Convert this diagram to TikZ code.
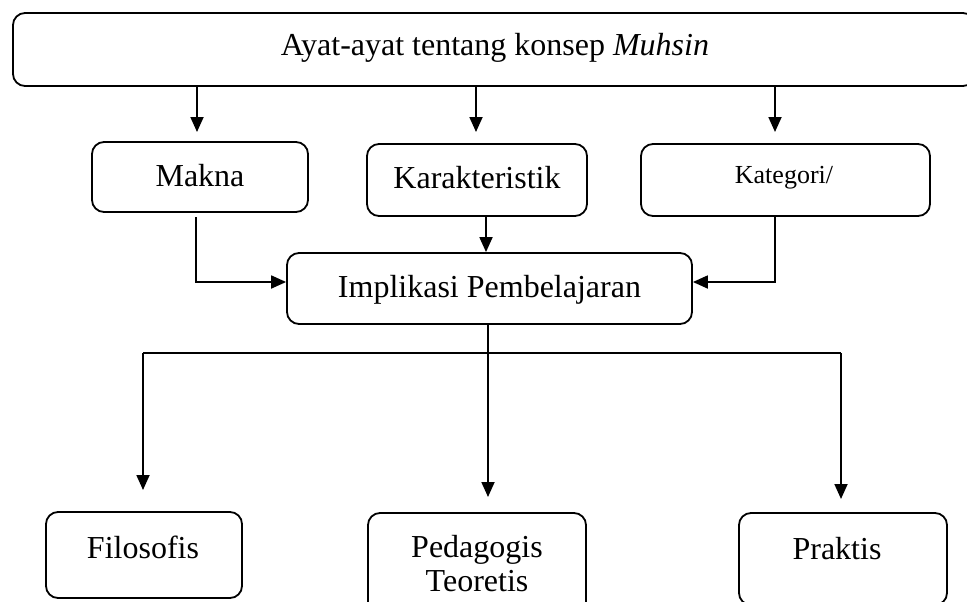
\documentclass[tikz,border=0pt]{standalone}
\usepackage{fontspec}
\setmainfont{Liberation Serif}
\usetikzlibrary{arrows.meta}
\begin{document}
\begin{tikzpicture}[x=1pt,y=-1pt,
  box/.style={draw,line width=1.8pt,rounded corners=12pt,inner sep=0pt,align=center,font=\fontsize{32}{37}\selectfont},
  txt/.style={inner sep=0pt,align=center,font=\fontsize{32}{37}\selectfont},
  arr/.style={line width=1.8pt,-{Triangle[length=15pt,width=13pt]}},
  ln/.style={line width=1.8pt}]
\useasboundingbox (0,0) rectangle (967,602);
\clip (0,0) rectangle (967,602);
% boxes
\node[box,minimum width=962pt,minimum height=73pt] (top) at (494,49.5) {};
\node[txt] (toptext) at (495,48) {Ayat-ayat tentang konsep \textit{Muhsin}};
\node[box,minimum width=216pt,minimum height=70pt] (makna) at (200,177) {};
\node[txt] (maknat) at (200,175.5) {Makna};
\node[box,minimum width=220pt,minimum height=72pt] (kar) at (477,180) {};
\node[txt] (kart) at (477,177.5) {Karakteristik};
\node[box,minimum width=289pt,minimum height=72pt] (kat) at (785.5,180) {};
\node[txt,font=\fontsize{26}{30}\selectfont] (katt) at (784,178) {Kategori/};
\node[box,minimum width=405pt,minimum height=71pt] (impl) at (489.5,288.5) {};
\node[txt] (implt) at (489.5,290) {Implikasi Pembelajaran};
\node[box,minimum width=196pt,minimum height=86pt] (filo) at (144,555) {};
\node[box,minimum width=218pt,minimum height=116pt] (peda) at (477,571) {};
\node[box,minimum width=208pt,minimum height=92pt] (prak) at (843,559) {};
\node[txt] (filot) at (143,547) {Filosofis};
\node[txt,font=\fontsize{32}{34}\selectfont] (pedat) at (477,564) {Pedagogis\\Teoretis};
\node[txt] (prakt) at (837,549) {Praktis};
% top arrows
\coordinate (t1) at (197,132);
\coordinate (t2) at (476,132);
\coordinate (t3) at (775,132);
\draw[arr] (top.south -| t1) -- (t1);
\draw[arr] (top.south -| t2) -- (t2);
\draw[arr] (top.south -| t3) -- (t3);
% into Implikasi
\coordinate (m1) at (196,217);
\coordinate (m2) at (196,282);
\draw[arr] (m1) -- (m2) -- (impl.west |- m2);
\coordinate (k1) at (486,216);
\draw[arr] (k1) -- (impl.north -| k1);
\coordinate (c1) at (775,216);
\coordinate (c2) at (775,282);
\draw[arr] (c1) -- (c2) -- (impl.east |- c2);
% bottom
\coordinate (b0) at (488,353);
\coordinate (bl) at (143,353);
\coordinate (br) at (841,353);
\coordinate (bl2) at (143,490);
\coordinate (bm2) at (488,497);
\coordinate (br2) at (841,499);
\draw[ln] (bl) -- (br);
\draw[arr] (impl.south -| b0) -- (bm2);
\draw[arr] (bl) -- (bl2);
\draw[arr] (br) -- (br2);
\end{tikzpicture}
\end{document}
